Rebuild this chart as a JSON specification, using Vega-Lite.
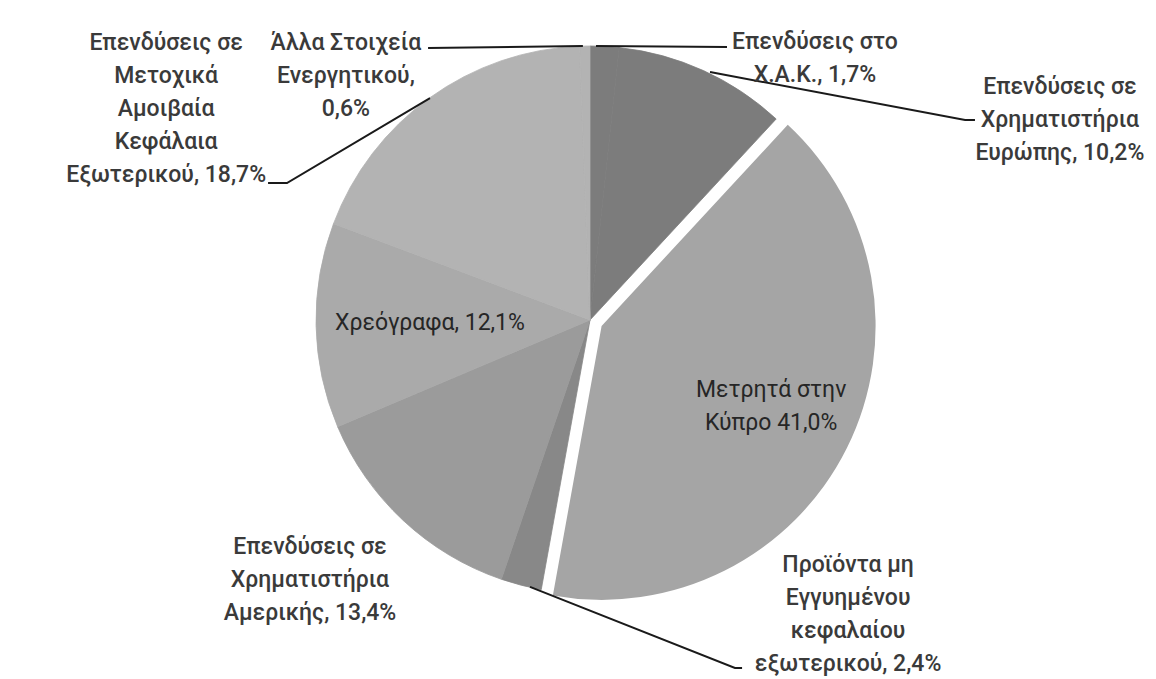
{
  "$schema": "https://vega.github.io/schema/vega-lite/v6.json",
  "width": 1156,
  "height": 679,
  "padding": 0,
  "autosize": {"type": "none"},
  "background": "white",
  "view": {"stroke": null},
  "config": {"font": "Roboto"},
  "datasets": {
    "slices": [
      {"cat": "Επενδύσεις στο Χ.Α.Κ.", "value": 1.7, "idx": 1},
      {"cat": "Επενδύσεις σε Χρηματιστήρια Ευρώπης", "value": 10.2, "idx": 2},
      {"cat": "Μετρητά στην Κύπρο", "value": 41.0, "idx": 3},
      {"cat": "Προϊόντα μη Εγγυημένου κεφαλαίου εξωτερικού", "value": 2.4, "idx": 4},
      {"cat": "Επενδύσεις σε Χρηματιστήρια Αμερικής", "value": 13.4, "idx": 5},
      {"cat": "Χρεόγραφα", "value": 12.1, "idx": 6},
      {"cat": "Επενδύσεις σε Μετοχικά Αμοιβαία Κεφάλαια Εξωτερικού", "value": 18.7, "idx": 7},
      {"cat": "Άλλα Στοιχεία Ενεργητικού", "value": 0.6, "idx": 8}
    ],
    "labels": [
      {"lines": ["Επενδύσεις σε", "Μετοχικά", "Αμοιβαία", "Κεφάλαια", "Εξωτερικού, 18,7%"], "u": -1.547, "v": 1.011, "kind": "out"},
      {"lines": ["Άλλα Στοιχεία", "Ενεργητικού,", "0,6%"], "u": -0.891, "v": 1.011, "kind": "out"},
      {"lines": ["Επενδύσεις στο", "Χ.Α.Κ., 1,7%"], "u": 0.821, "v": 1.015, "kind": "out"},
      {"lines": ["Επενδύσεις σε", "Χρηματιστήρια", "Ευρώπης, 10,2%"], "u": 1.715, "v": 0.85, "kind": "out"},
      {"lines": ["Επενδύσεις σε", "Χρηματιστήρια", "Αμερικής, 13,4%"], "u": -1.022, "v": -0.828, "kind": "out"},
      {"lines": ["Προϊόντα μη", "Εγγυημένου", "κεφαλαίου", "εξωτερικού, 2,4%"], "u": 0.942, "v": -0.894, "kind": "out"},
      {"lines": ["Χρεόγραφα, 12,1%"], "u": -0.584, "v": -0.011, "kind": "in"},
      {"lines": ["Μετρητά στην", "Κύπρο 41,0%"], "u": 0.661, "v": -0.255, "kind": "in"}
    ],
    "leaders": [
      {"k": "alla", "i": 1, "u": -0.591, "v": 0.993},
      {"k": "alla", "i": 2, "u": -0.026, "v": 1.0},
      {"k": "xak", "i": 1, "u": 0.022, "v": 1.0},
      {"k": "xak", "i": 2, "u": 0.5, "v": 0.996},
      {"k": "eur", "i": 1, "u": 0.438, "v": 0.905},
      {"k": "eur", "i": 2, "u": 1.369, "v": 0.73},
      {"k": "eur", "i": 3, "u": 1.405, "v": 0.73},
      {"k": "met", "i": 1, "u": -1.175, "v": 0.5},
      {"k": "met", "i": 2, "u": -1.106, "v": 0.5},
      {"k": "met", "i": 3, "u": -0.584, "v": 0.81},
      {"k": "pro", "i": 1, "u": -0.219, "v": -0.974},
      {"k": "pro", "i": 2, "u": 0.529, "v": -1.27},
      {"k": "pro", "i": 3, "u": 0.555, "v": -1.27}
    ]
  },
  "resolve": {"scale": {"x": "shared", "y": "shared", "theta": "shared"}},
  "layer": [
    {
      "data": {"name": "slices"},
      "transform": [
        {"stack": "value", "groupby": [], "sort": [{"field": "idx", "order": "ascending"}], "as": ["v0", "v1"]},
        {"filter": "datum.idx != 3"}
      ],
      "mark": {"type": "arc", "outerRadius": 274, "strokeWidth": 0.8},
      "encoding": {
        "x": {"datum": 0, "type": "quantitative", "scale": {"domain": [-2.1533, 2.0657], "nice": false, "zero": false}, "axis": null},
        "y": {"datum": 0, "type": "quantitative", "scale": {"domain": [-1.3102, 1.1679], "nice": false, "zero": false}, "axis": null},
        "theta": {"field": "v0", "type": "quantitative", "scale": {"domain": [0, 100.1]}},
        "theta2": {"field": "v1"},
        "color": {
          "field": "cat", "type": "nominal", "legend": null,
          "scale": {
            "domain": ["Επενδύσεις στο Χ.Α.Κ.", "Επενδύσεις σε Χρηματιστήρια Ευρώπης", "Μετρητά στην Κύπρο", "Προϊόντα μη Εγγυημένου κεφαλαίου εξωτερικού", "Επενδύσεις σε Χρηματιστήρια Αμερικής", "Χρεόγραφα", "Επενδύσεις σε Μετοχικά Αμοιβαία Κεφάλαια Εξωτερικού", "Άλλα Στοιχεία Ενεργητικού"],
            "range": ["#7c7c7c", "#7c7c7c", "#a5a5a5", "#888888", "#9b9b9b", "#aaaaaa", "#b3b3b3", "#b3b3b3"]
          }
        },
        "stroke": {
          "field": "cat", "type": "nominal", "legend": null,
          "scale": {
            "domain": ["Επενδύσεις στο Χ.Α.Κ.", "Επενδύσεις σε Χρηματιστήρια Ευρώπης", "Μετρητά στην Κύπρο", "Προϊόντα μη Εγγυημένου κεφαλαίου εξωτερικού", "Επενδύσεις σε Χρηματιστήρια Αμερικής", "Χρεόγραφα", "Επενδύσεις σε Μετοχικά Αμοιβαία Κεφάλαια Εξωτερικού", "Άλλα Στοιχεία Ενεργητικού"],
            "range": ["#7c7c7c", "#7c7c7c", "#a5a5a5", "#888888", "#9b9b9b", "#aaaaaa", "#b3b3b3", "#b3b3b3"]
          }
        }
      }
    },
    {
      "data": {"name": "slices"},
      "transform": [
        {"stack": "value", "groupby": [], "sort": [{"field": "idx", "order": "ascending"}], "as": ["v0", "v1"]},
        {"filter": "datum.idx == 3"}
      ],
      "mark": {"type": "arc", "outerRadius": 274, "xOffset": 11.6, "yOffset": 5.9},
      "encoding": {
        "x": {"datum": 0, "type": "quantitative"},
        "y": {"datum": 0, "type": "quantitative"},
        "theta": {"field": "v0", "type": "quantitative"},
        "theta2": {"field": "v1"},
        "color": {"field": "cat", "type": "nominal", "legend": null}
      }
    },
    {
      "data": {"name": "leaders"},
      "mark": {"type": "line", "color": "#1a1a1a", "strokeWidth": 2},
      "encoding": {
        "x": {"field": "u", "type": "quantitative"},
        "y": {"field": "v", "type": "quantitative"},
        "detail": {"field": "k"},
        "order": {"field": "i", "type": "quantitative"}
      }
    },
    {
      "data": {"name": "labels"},
      "transform": [{"filter": "datum.kind == 'out'"}],
      "mark": {"type": "text", "font": "Roboto", "fontSize": 23, "fontWeight": 500, "color": "#3a3a3a", "lineHeight": 33, "align": "center", "baseline": "middle"},
      "encoding": {
        "x": {"field": "u", "type": "quantitative"},
        "y": {"field": "v", "type": "quantitative"},
        "text": {"field": "lines"}
      }
    },
    {
      "data": {"name": "labels"},
      "transform": [{"filter": "datum.kind == 'in'"}],
      "mark": {"type": "text", "font": "Roboto", "fontSize": 23, "fontWeight": 400, "color": "#262626", "lineHeight": 33, "align": "center", "baseline": "middle"},
      "encoding": {
        "x": {"field": "u", "type": "quantitative"},
        "y": {"field": "v", "type": "quantitative"},
        "text": {"field": "lines"}
      }
    }
  ]
}
